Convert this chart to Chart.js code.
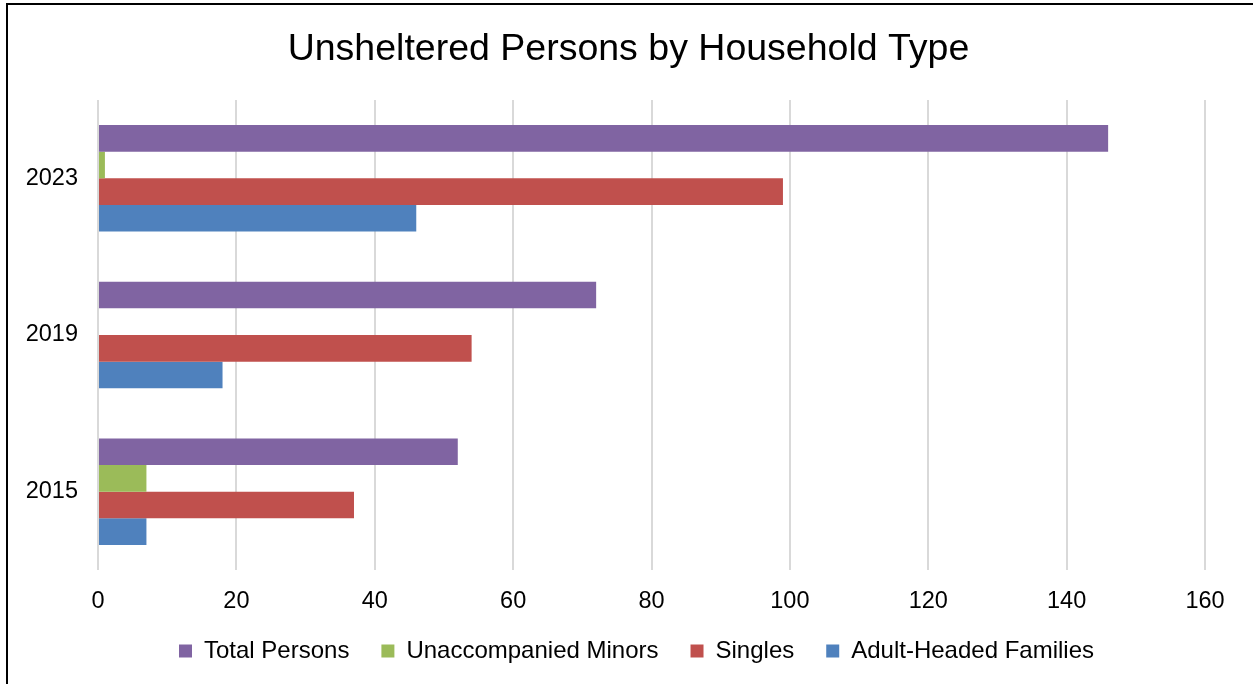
<!DOCTYPE html>
<html>
<head>
<meta charset="utf-8">
<script src="https://cdn.jsdelivr.net/npm/chart.js@4"></script>
<style>
html,body{margin:0;padding:0;background:#fff;overflow:hidden;}
#wrap{position:relative;width:1253px;height:684px;}
#frame{position:absolute;left:6px;top:3px;width:2000px;height:2000px;border-left:2px solid #000;border-top:2px solid #000;pointer-events:none;}
</style>
</head>
<body>
<div id="wrap">
<canvas id="c" width="1253" height="684"></canvas>
<div id="frame"></div>
</div>
<script>
const categories = ['2023', '2019', '2015'];
const totalPersons = [146, 72, 52];
const unaccompaniedMinors = [1, 0, 7];
const singles = [99, 54, 37];
const adultHeadedFamilies = [46, 18, 7];
const xTicks = [0, 20, 40, 60, 80, 100, 120, 140, 160];

const FONT = "'Liberation Sans', Arial, sans-serif";

// shift the centred title / legend boxes so they sit where the reference has them
const shiftBoxes = {
  id: 'shiftBoxes',
  afterLayout(chart) {
    const t = chart.titleBlock, l = chart.legend;
    if (t) { t.left += 16; t.right += 16; }
    if (l) { l.left += 24; l.right += 24; l.top -= 6.5; l.bottom -= 6.5; }
  }
};

new Chart(document.getElementById('c'), {
  type: 'bar',
  data: {
    labels: categories,
    datasets: [
      {label: 'Total Persons', data: totalPersons, backgroundColor: '#8064A2'},
      {label: 'Unaccompanied Minors', data: unaccompaniedMinors, backgroundColor: '#9BBB59'},
      {label: 'Singles', data: singles, backgroundColor: '#C0504D'},
      {label: 'Adult-Headed Families', data: adultHeadedFamilies, backgroundColor: '#4F81BD'}
    ]
  },
  plugins: [shiftBoxes],
  options: {
    indexAxis: 'y',
    responsive: false,
    animation: false,
    devicePixelRatio: 1,
    layout: {padding: {left: 20, right: 48, top: 0, bottom: 4.5}},
    datasets: {bar: {categoryPercentage: 0.68, barPercentage: 1.0}},
    plugins: {
      title: {
        display: true,
        text: 'Unsheltered Persons by Household Type',
        color: '#000',
        font: {family: FONT, size: 37.5, weight: 'normal'},
        padding: {top: 27, bottom: 28}
      },
      legend: {
        position: 'bottom',
        labels: {
          color: '#000',
          font: {family: FONT, size: 24},
          boxWidth: 13,
          boxHeight: 13,
          padding: 32
        }
      },
      tooltip: {enabled: false}
    },
    scales: {
      x: {
        min: 0, max: 160,
        afterBuildTicks: (s) => { s.ticks = xTicks.map(v => ({value: v})); },
        afterFit: (s) => { s.height = 43.5; },
        grid: {color: '#d9d9d9', lineWidth: 2, drawTicks: false},
        border: {display: false},
        ticks: {color: '#000', font: {family: FONT, size: 23.5}, padding: 17.5}
      },
      y: {
        afterFit: (s) => { s.width = 78; },
        grid: {display: false, drawTicks: false},
        border: {display: false},
        ticks: {color: '#000', font: {family: FONT, size: 23.5}, padding: 20}
      }
    }
  }
});
</script>
</body>
</html>
